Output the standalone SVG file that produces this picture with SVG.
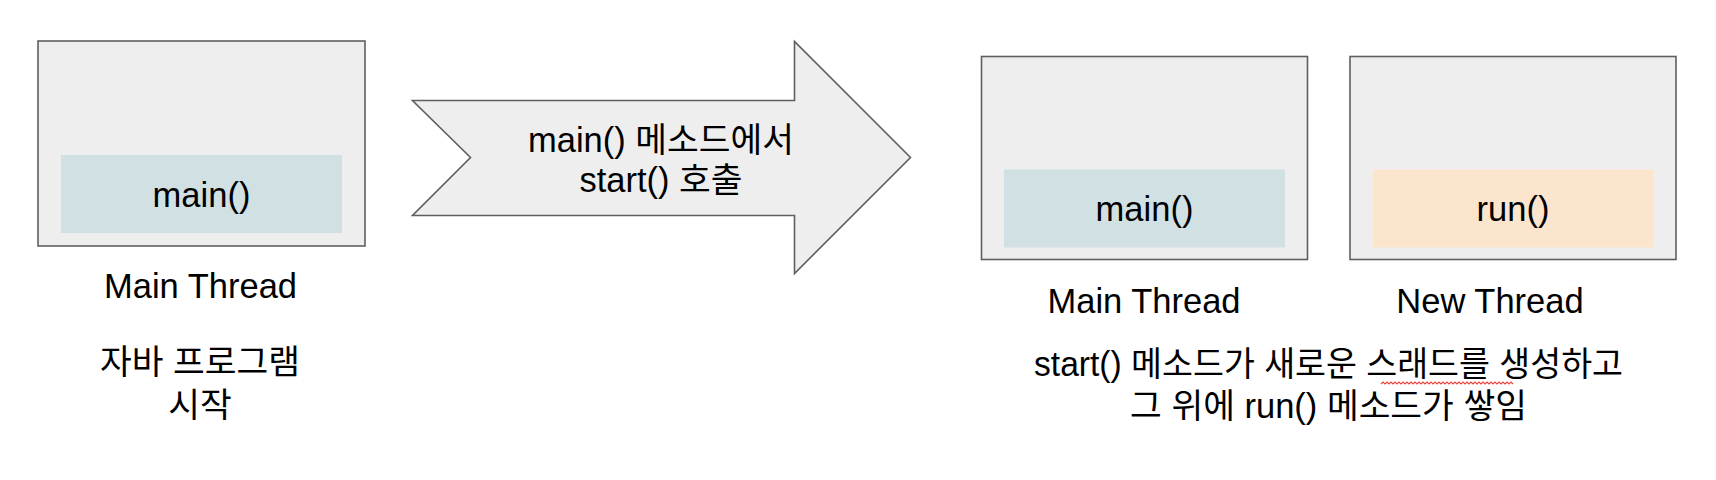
<svg xmlns="http://www.w3.org/2000/svg" width="1716" height="480" viewBox="0 0 1716 480">
  <style>
    .box { fill: #eeeeee; stroke: #5f5f5f; stroke-width: 1.6; }
    .main { fill: #d0e0e3; }
    .run { fill: #fce5cd; }
    .t { font-family: "Liberation Sans", "Noto Sans CJK KR", sans-serif; font-size: 34.5px; fill: #000000; text-anchor: middle; }
    .wavy { fill: none; stroke: #e8453c; stroke-width: 1.2; }
  </style>
  <rect width="1716" height="480" fill="#ffffff"/>

  <g id="main-thread-start">
    <rect class="box" x="38" y="41" width="327" height="205"/>
    <rect class="main" x="61" y="155" width="281" height="78"/>
    <text class="t" x="201.5" y="206.5">main()</text>
    <text class="t" x="200.5" y="297.5">Main Thread</text>
    <text class="t" x="200" y="374">자바 프로그램</text>
    <text class="t" x="200" y="417">시작</text>
  </g>

  <g id="connectors">
    <g id="call-arrow">
      <polygon class="box" points="412.5,100.5 794.5,100.5 794.5,41.5 910.5,157.5 794.5,273.5 794.5,215.5 412.5,215.5 470.5,157.5"/>
      <text class="t" x="661" y="152">main() 메소드에서</text>
      <text class="t" x="661" y="192">start() 호출</text>
    </g>
  </g>

  <g id="main-thread-after">
    <rect class="box" x="981.5" y="56.5" width="326" height="203"/>
    <rect class="main" x="1004" y="169.5" width="281" height="78"/>
    <text class="t" x="1144.5" y="220.5">main()</text>
    <text class="t" x="1144" y="313.3">Main Thread</text>
  </g>

  <g id="new-thread">
    <rect class="box" x="1350" y="56.5" width="326" height="203"/>
    <rect class="run" x="1372.5" y="169.5" width="281" height="78"/>
    <text class="t" x="1513" y="220.5">run()</text>
    <text class="t" x="1490" y="313.3">New Thread</text>
  </g>

  <g id="caption">
    <text class="t" x="1328.5" y="376" textLength="589" lengthAdjust="spacingAndGlyphs">start() 메소드가 새로운 스래드를 생성하고</text>
    <text class="t" x="1328.5" y="418">그 위에 run() 메소드가 쌓임</text>
    <path class="wavy" d="M1381 384 l2 -2 2 2 2 -2 2 2 2 -2 2 2 2 -2 2 2 2 -2 2 2 2 -2 2 2 2 -2 2 2 2 -2 2 2 2 -2 2 2 2 -2 2 2 2 -2 2 2 2 -2 2 2 2 -2 2 2 2 -2 2 2 2 -2 2 2 2 -2 2 2 2 -2 2 2 2 -2 2 2 2 -2 2 2 2 -2 2 2 2 -2 2 2 2 -2 2 2 2 -2 2 2 2 -2 2 2 2 -2 2 2 2 -2 2 2 2 -2 2 2 2 -2 2 2 2 -2 2 2 2 -2 2 2 2 -2 2 2 2 -2 2 2 2 -2 2 2"/>
  </g>
</svg>
